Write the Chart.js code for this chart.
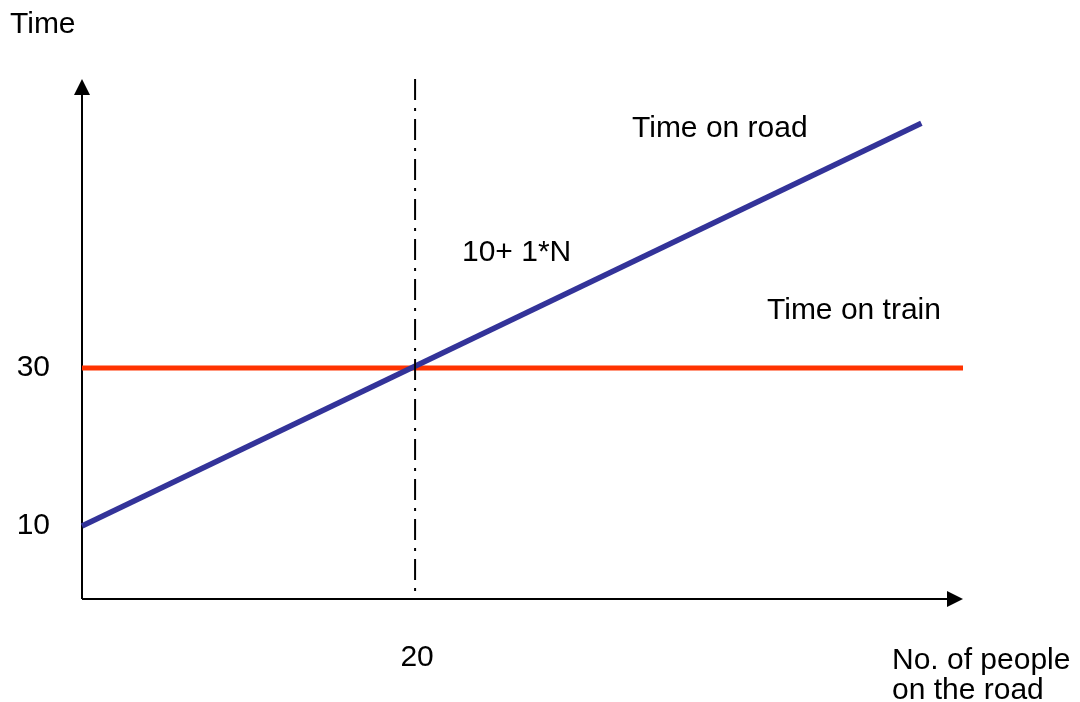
<!DOCTYPE html>
<html>
<head>
<meta charset="utf-8">
<script src="https://cdn.jsdelivr.net/npm/chart.js@4"></script>
<style>
  html, body { margin: 0; padding: 0; background: #fff; }
  #wrap { width: 1080px; height: 702px; }
</style>
</head>
<body>
<div id="wrap"><canvas id="graf" width="1080" height="702"></canvas></div>
<script>
// data
const roadX = [0, 50.4];
const roadY = [10, 61];
const trainX = [0, 52.9];
const trainY = [30, 30];
const splitX = 20;
const yTicks = [10, 30];
const xTicks = [20];
const xMax = 52.9;
const yMin = 0.76;
const yMax = 66.6;

const FONT = "30px 'Liberation Sans', Arial, sans-serif";

const toPts = (xs, ys) => xs.map((x, i) => ({ x: x, y: ys[i] }));

// axes with arrows + text labels
const deco = {
  id: "deco",
  beforeDatasetsDraw(chart) {
    const { ctx, chartArea: a } = chart;
    ctx.save();
    ctx.strokeStyle = "#000";
    ctx.fillStyle = "#000";
    ctx.lineWidth = 2;
    ctx.beginPath();
    ctx.moveTo(a.left, a.bottom);
    ctx.lineTo(a.left, a.top + 10);
    ctx.moveTo(a.left, a.bottom);
    ctx.lineTo(a.right - 10, a.bottom);
    ctx.stroke();
    // arrow heads
    ctx.beginPath();
    ctx.moveTo(a.left, a.top);
    ctx.lineTo(a.left - 8, a.top + 16);
    ctx.lineTo(a.left + 8, a.top + 16);
    ctx.closePath();
    ctx.fill();
    ctx.beginPath();
    ctx.moveTo(a.right, a.bottom);
    ctx.lineTo(a.right - 16, a.bottom - 8);
    ctx.lineTo(a.right - 16, a.bottom + 8);
    ctx.closePath();
    ctx.fill();
    ctx.restore();
  },
  afterDraw(chart) {
    const { ctx, chartArea: a, scales } = chart;
    ctx.save();
    ctx.fillStyle = "#000";
    ctx.font = FONT;
    ctx.textBaseline = "middle";
    ctx.textAlign = "right";
    yTicks.forEach(v => ctx.fillText(String(v), 50, scales.y.getPixelForValue(v)));
    ctx.textAlign = "center";
    xTicks.forEach(v => ctx.fillText(String(v), scales.x.getPixelForValue(v) + 2, a.bottom + 59));
    ctx.textAlign = "left";
    ctx.textBaseline = "alphabetic";
    ctx.fillText("Time", 10, 33);
    ctx.fillText("No. of people", 892, 669);
    ctx.fillText("on the road", 892, 699);
    ctx.fillText("Time on road", 632, 137);
    ctx.fillText("10+ 1*N", 462, 261);
    ctx.fillText("Time on train", 767, 319);
    ctx.restore();
  }
};

new Chart(document.getElementById("graf"), {
  type: "line",
  data: {
    datasets: [
      {
        data: [{ x: splitX, y: yMax }, { x: splitX, y: yMin }],
        borderColor: "#000",
        borderWidth: 2,
        borderDash: [21, 8, 3, 8],
        pointRadius: 0,
        clip: false
      },
      {
        label: "Time on road",
        data: toPts(roadX, roadY),
        borderColor: "#333399",
        borderWidth: 5.5,
        pointRadius: 0,
        clip: false
      },
      {
        label: "Time on train",
        data: toPts(trainX, trainY),
        borderColor: "#ff3300",
        borderWidth: 5,
        pointRadius: 0,
        clip: false
      }
    ]
  },
  options: {
    responsive: false,
    animation: false,
    layout: { padding: { left: 82, right: 117, top: 79, bottom: 103 } },
    plugins: { legend: { display: false }, tooltip: { enabled: false } },
    scales: {
      x: { type: "linear", min: 0, max: xMax, display: false },
      y: { type: "linear", min: yMin, max: yMax, display: false }
    }
  },
  plugins: [deco]
});
</script>
</body>
</html>
